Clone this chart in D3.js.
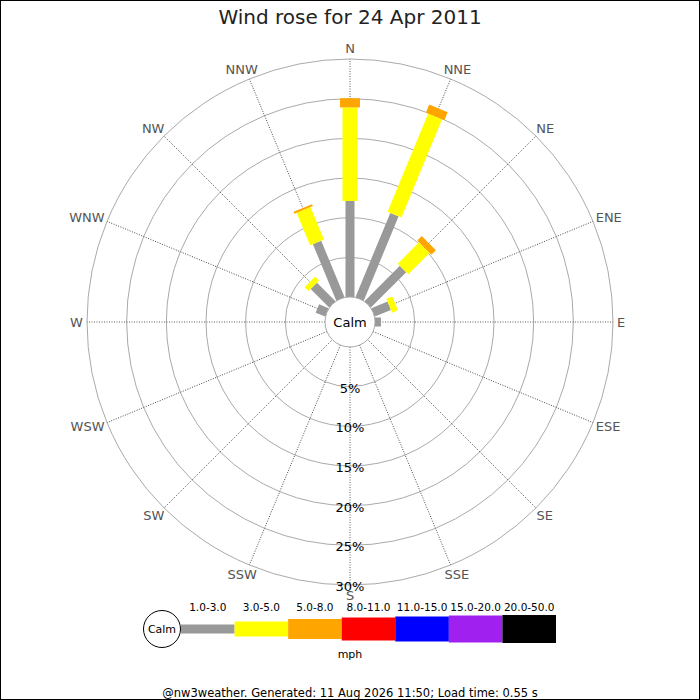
<!DOCTYPE html>
<html>
<head>
<meta charset="utf-8">
<script src="https://cdn.jsdelivr.net/npm/d3@7"></script>
<style>
  body { margin: 0; background: #fff; }
  svg text { font-family: "DejaVu Sans", sans-serif; }
</style>
</head>
<body>
<div id="chart"></div>
<script>
// wind rose data (percent of time per direction and speed class)
const directions = ["N","NNE","NE","ENE","E","ESE","SE","SSE","S","SSW","SW","WSW","W","WNW","NW","NNW"]
const speedClasses = ["1.0-3.0","3.0-5.0","5.0-8.0","8.0-11.0","11.0-15.0","15.0-20.0","20.0-50.0"]
const classColors = ["#999999","#ffff00","#ffa500","#ff0000","#0000ff","#a020f0","#000000"]
const ringTicks = [5, 10, 15, 20, 25, 30]

// one array per speed class, values per direction (same order as directions)
const speed1to3   = [12.1, 11.5, 6.3, 2.2, 0.75, 0, 0, 0, 0, 0, 0, 0, 0, 1.3, 3.3, 7.7]
const speed3to5   = [11.8, 13.4, 3.8, 0.8, 0, 0, 0, 0, 0, 0, 0, 0, 0, 0, 0.7, 4.45]
const speed5to8   = [1.15, 1.1, 0.8, 0, 0, 0, 0, 0, 0, 0, 0, 0, 0, 0, 0, 0.25]
const speed8to11  = [0, 0, 0, 0, 0, 0, 0, 0, 0, 0, 0, 0, 0, 0, 0, 0]
const speed11to15 = [0, 0, 0, 0, 0, 0, 0, 0, 0, 0, 0, 0, 0, 0, 0, 0]
const speed15to20 = [0, 0, 0, 0, 0, 0, 0, 0, 0, 0, 0, 0, 0, 0, 0, 0]
const speed20to50 = [0, 0, 0, 0, 0, 0, 0, 0, 0, 0, 0, 0, 0, 0, 0, 0]
const series = [speed1to3, speed3to5, speed5to8, speed8to11, speed11to15, speed15to20, speed20to50]

const width = 700
const height = 700
const cx = 350
const cy = 322
const calmR = 25
const barWidths = [9, 15, 20, 23, 25, 27, 28]

const svg = d3.select("div#chart").append("svg").attr("width", width).attr("height", height)

svg.append("rect").attr("x", 0.5).attr("y", 0.5).attr("width", width - 1).attr("height", height - 1)
    .attr("fill", "#fff").attr("stroke", "#000")

svg.append("text").attr("x", cx).attr("y", 24).attr("text-anchor", "middle")
    .attr("font-size", 20).attr("fill", "#222").text("Wind rose for 24 Apr 2011")

const r = d3.scaleLinear().domain([0, 30]).range([calmR, 263])
const angle = d3.scalePoint().domain(directions).range([0, 337.5])

const rose = svg.append("g").attr("transform", `translate(${cx}, ${cy})`)

// rings
rose.selectAll("circle.ring").data(ringTicks).enter().append("circle")
    .attr("class", "ring").attr("r", d => r(d))
    .attr("fill", "none").attr("stroke", "#aaa").attr("stroke-width", 1)

// spokes
rose.selectAll("line.spoke").data(directions).enter().append("line")
    .attr("class", "spoke")
    .attr("transform", d => `rotate(${angle(d)})`)
    .attr("x1", 0).attr("y1", -calmR).attr("x2", 0).attr("y2", -r(30))
    .attr("stroke", "#333").attr("stroke-width", 0.8).attr("stroke-dasharray", "1,1.5")

// stacked bars
const bars = []
directions.forEach((dir, i) => {
    let cum = 0
    series.forEach((s, k) => {
        if (s[i] > 0) {
            bars.push({ dir: dir, k: k, from: cum, to: cum + s[i] })
            cum += s[i]
        }
    })
})

rose.selectAll("rect.bar").data(bars).enter().append("rect")
    .attr("class", "bar")
    .attr("transform", d => `rotate(${angle(d.dir)})`)
    .attr("x", d => -barWidths[d.k] / 2)
    .attr("y", d => -r(d.to))
    .attr("width", d => barWidths[d.k])
    .attr("height", d => r(d.to) - r(d.from))
    .attr("fill", d => classColors[d.k])

// calm circle
rose.append("circle").attr("r", calmR).attr("fill", "#fff").attr("stroke", "#aaa")
rose.append("text").attr("y", 5).attr("text-anchor", "middle").attr("font-size", 13).text("Calm")

// percentage labels along the S spoke
rose.selectAll("text.pct").data(ringTicks).enter().append("text")
    .attr("class", "pct")
    .attr("x", 0).attr("y", d => r(d) + 6)
    .attr("text-anchor", "middle").attr("font-size", 13).attr("fill", "#000")
    .text(d => d + "%")

// direction labels
rose.selectAll("text.dir").data(directions).enter().append("text")
    .attr("class", "dir")
    .attr("font-size", 13).attr("fill", "#555")
    .attr("text-anchor", "middle").attr("dominant-baseline", "central")
    .text(d => d)
    .each(function(d) {
        const a = angle(d) * Math.PI / 180
        const bb = this.getBBox()
        const rr = 267
        const x = rr * Math.sin(a) + (bb.width / 2) * Math.sin(a)
        const y = -rr * Math.cos(a) - (bb.height / 2 - 1) * Math.cos(a)
        d3.select(this).attr("x", x).attr("y", y)
    })

// legend
const legX = d3.scaleBand().domain(speedClasses).range([181, 556])
const legY = 629
const legend = svg.append("g")

legend.selectAll("rect").data(speedClasses).enter().append("rect")
    .attr("x", d => legX(d))
    .attr("y", (d, i) => legY - barWidths[i] / 2)
    .attr("width", legX.bandwidth())
    .attr("height", (d, i) => barWidths[i])
    .attr("fill", (d, i) => classColors[i])

legend.selectAll("text").data(speedClasses).enter().append("text")
    .attr("x", d => legX(d) + legX.bandwidth() / 2)
    .attr("y", 611)
    .attr("text-anchor", "middle").attr("font-size", 10.5).attr("fill", "#000")
    .text(d => d)

legend.append("circle").attr("cx", 162).attr("cy", legY).attr("r", 18.5)
    .attr("fill", "#fff").attr("stroke", "#000")
legend.append("text").attr("x", 162).attr("y", legY + 4).attr("text-anchor", "middle")
    .attr("font-size", 11).text("Calm")

legend.append("text").attr("x", cx).attr("y", 658).attr("text-anchor", "middle")
    .attr("font-size", 11).text("mph")

svg.append("text").attr("x", cx).attr("y", 697).attr("text-anchor", "middle")
    .attr("font-size", 11.5).attr("fill", "#000")
    .text("@nw3weather. Generated: 11 Aug 2026 11:50; Load time: 0.55 s")
</script>
</body>
</html>
